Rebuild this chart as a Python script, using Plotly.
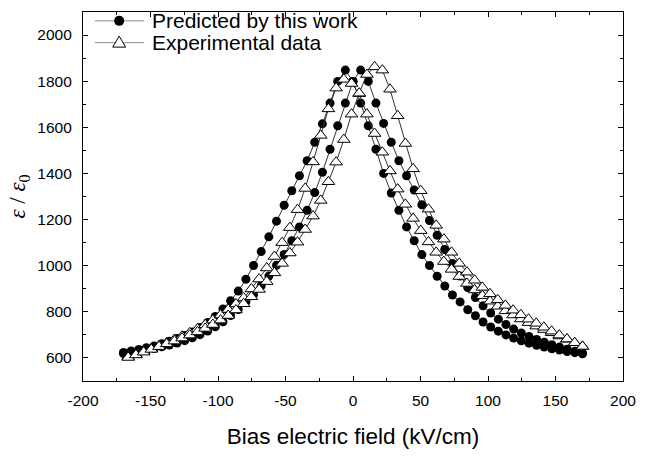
import plotly.graph_objects as go

# Bias field grid of the model (kV/cm)
field_model = [-170, -164.33, -158.67, -153, -147.33, -141.67, -136, -130.33, -124.67, -119,
               -113.33, -107.67, -102, -96.33, -90.67, -85, -79.33, -73.67, -68, -62.33,
               -56.67, -51, -45.33, -39.67, -34, -28.33, -22.67, -17, -11.33, -5.67,
               0, 5.67, 11.33, 17, 22.67, 28.33, 34, 39.67, 45.33, 51,
               56.67, 62.33, 68, 73.67, 79.33, 85, 90.67, 96.33, 102, 107.67,
               113.33, 119, 124.67, 130.33, 136, 141.67, 147.33, 153, 158.67, 164.33, 170]

# Predicted permittivity, descending and ascending field sweeps
pred_down = [624, 630, 637, 644, 652, 661, 672, 684, 697, 713,
             732, 754, 780, 812, 848, 890, 941, 1001, 1061, 1125,
             1193, 1262, 1325, 1390, 1455, 1535, 1615, 1705, 1799, 1848,
             1799, 1705, 1607, 1505, 1400, 1315, 1240, 1168, 1108, 1048,
             1001, 954, 912, 873, 843, 809, 783, 756, 734, 716,
             700, 686, 674, 664, 655, 647, 640, 634, 628, 623, 618]
pred_up = [619, 624, 629, 635, 641, 648, 656, 665, 675, 687,
           701, 717, 735, 757, 784, 810, 844, 874, 913, 955,
           1002, 1049, 1108, 1168, 1240, 1317, 1405, 1505, 1607, 1705,
           1799, 1848, 1799, 1705, 1617, 1535, 1455, 1390, 1328, 1264,
           1196, 1132, 1070, 1010, 955, 905, 862, 826, 795, 768,
           745, 725, 708, 693, 680, 668, 657, 647, 638, 629, 621]

# Bias field grid of the measurement (kV/cm)
field_exp = [-166.5, -160.8, -155.1, -149.4, -143.7, -138.0, -132.3, -126.6, -120.9, -115.2,
             -109.5, -103.8, -98.1, -92.4, -86.7, -81.0, -75.3, -69.6, -63.9, -58.2,
             -52.5, -46.8, -41.1, -35.4, -29.6, -23.9, -18.2, -12.5, -6.8, -1.1,
             4.6, 10.3, 16.0, 21.7, 27.4, 33.1, 38.8, 44.5, 50.2, 55.9,
             61.6, 67.3, 73.0, 78.7, 84.4, 90.1, 95.8, 101.5, 107.2, 112.9,
             118.6, 124.3, 130.0, 135.7, 141.4, 147.1, 152.8, 158.5, 164.2, 170.0]

# Measured permittivity, descending and ascending field sweeps
exp_down = [605, 616, 628, 640, 653, 666, 680, 694, 709, 726,
            744, 764, 786, 810, 834, 860, 899, 942, 990, 1040,
            1100, 1165, 1243, 1335, 1450, 1565, 1680, 1770, 1808, 1790,
            1746, 1657, 1573, 1492, 1411, 1332, 1266, 1205, 1152, 1103,
            1058, 1018, 984, 953, 923, 895, 870, 846, 824, 804,
            786, 769, 753, 738, 723, 709, 695, 681, 666, 650]
exp_up = [602, 613, 625, 637, 649, 661, 673, 686, 699, 713,
          728, 745, 764, 784, 808, 835, 865, 897, 931, 969,
          1010, 1055, 1102, 1157, 1215, 1283, 1364, 1449, 1547, 1657,
          1748, 1829, 1862, 1848, 1765, 1650, 1530, 1420, 1325, 1245,
          1175, 1115, 1058, 1010, 972, 937, 906, 878, 852, 828,
          807, 787, 768, 750, 733, 716, 699, 682, 666, 650]

# Axis ticks (plain hyphen minus signs)
x_ticks = [-200, -150, -100, -50, 0, 50, 100, 150, 200]
x_tick_labels = ["-200", "-150", "-100", "-50", "0", "50", "100", "150", "200"]
y_ticks = [600, 800, 1000, 1200, 1400, 1600, 1800, 2000]
y_tick_labels = ["600", "800", "1000", "1200", "1400", "1600", "1800", "2000"]

# Legend entries
legend_labels = ["Predicted by this work", "Experimental data"]

SANS = "Arial, Liberation Sans, sans-serif"
LINE = dict(color="#333333", width=1)
CIRCLE = dict(symbol="circle", size=9, color="black", line=dict(width=0))
TRIANGLE = dict(symbol="triangle-up", size=11, color="white", line=dict(color="black", width=1))

fig = go.Figure()
fig.add_trace(go.Scatter(x=field_model, y=pred_down, mode="lines+markers", line=LINE,
                         marker=CIRCLE, name=legend_labels[0]))
fig.add_trace(go.Scatter(x=field_model, y=pred_up, mode="lines+markers", line=LINE,
                         marker=CIRCLE, name=legend_labels[0]))
fig.add_trace(go.Scatter(x=field_exp, y=exp_down, mode="lines+markers", line=LINE,
                         marker=TRIANGLE, name=legend_labels[1]))
fig.add_trace(go.Scatter(x=field_exp, y=exp_up, mode="lines+markers", line=LINE,
                         marker=TRIANGLE, name=legend_labels[1]))

axis_common = dict(showline=True, linecolor="black", linewidth=1.3, mirror="ticks",
                   ticks="inside", ticklen=5, tickwidth=1.2, tickcolor="black",
                   showgrid=False, zeroline=False, tickmode="array",
                   tickfont=dict(family=SANS, size=15.5, color="black"))

fig.update_xaxes(range=[-200, 200], tickvals=x_ticks, ticktext=x_tick_labels,
                 ticklabelstandoff=5,
                 minor=dict(tickmode="linear", tick0=-175, dtick=50, ticks="inside",
                            ticklen=3, tickcolor="black", tickwidth=1),
                 title=dict(text="Bias electric field (kV/cm)",
                            font=dict(family=SANS, size=22.5, color="black"),
                            standoff=20),
                 **axis_common)
fig.update_yaxes(range=[500, 2100], tickvals=y_ticks, ticktext=y_tick_labels,
                 ticklabelstandoff=7,
                 minor=dict(tickmode="linear", tick0=500, dtick=200, ticks="inside",
                            ticklen=3, tickcolor="black", tickwidth=1),
                 title=dict(text="<i>ε</i> / <i>ε</i><sub>0</sub>",
                            font=dict(family="Liberation Serif, Times New Roman, serif", size=23, color="black"),
                            standoff=5),
                 **axis_common)

# Legend drawn as keys (line + marker shape) and text annotations in the top-left corner
legend_rows = [0.976, 0.917]          # paper y of each legend row
key_x0, key_x1, key_mid, text_x = 0.022, 0.113, 0.067, 0.124
key_line = dict(color="#8c8c8c", width=1)
shapes = []
annotations = []
for row_y, label in zip(legend_rows, legend_labels):
    shapes.append(dict(type="line", xref="paper", yref="paper", x0=key_x0, x1=key_x1,
                       y0=row_y, y1=row_y, line=key_line))
    annotations.append(dict(text=label, xref="paper", yref="paper", x=text_x, y=row_y,
                            xanchor="left", yanchor="middle", showarrow=False,
                            font=dict(family=SANS, size=21, color="black")))
shapes.append(dict(type="circle", xref="paper", yref="paper",
                   xsizemode="pixel", ysizemode="pixel",
                   xanchor=key_mid, yanchor=legend_rows[0], x0=-5, x1=5, y0=-5, y1=5,
                   fillcolor="black", line=dict(width=0)))
shapes.append(dict(type="path", xref="paper", yref="paper",
                   xsizemode="pixel", ysizemode="pixel",
                   xanchor=key_mid, yanchor=legend_rows[1],
                   path="M -6.5 -4.5 L 6.5 -4.5 L 0 6.5 Z",
                   fillcolor="white", line=dict(color="black", width=1)))

fig.update_layout(
    width=647, height=456,
    margin=dict(l=83, r=14, t=11, b=72),
    paper_bgcolor="white", plot_bgcolor="white",
    showlegend=False,
    shapes=shapes,
    annotations=annotations,
)

fig.write_html("out.html")
